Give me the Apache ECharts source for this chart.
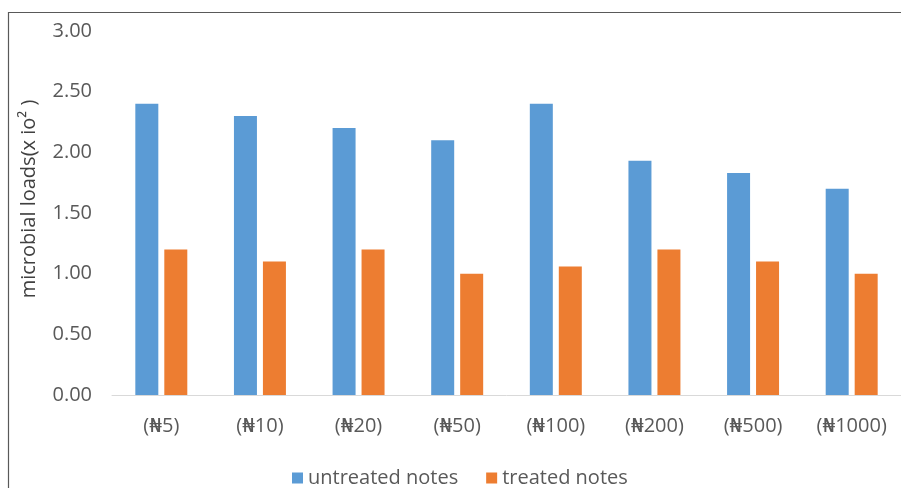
<!DOCTYPE html>
<html>
<head>
<meta charset="utf-8">
<script src="https://cdn.jsdelivr.net/npm/echarts@6/dist/echarts.min.js"></script>
<style>
  html, body { margin: 0; padding: 0; background: #fff; }
  #chart { width: 901px; height: 488px; }
</style>
</head>
<body>
<div id="chart"></div>
<script>
// Banknote denominations
const categories = ['(₦5)', '(₦10)', '(₦20)', '(₦50)', '(₦100)', '(₦200)', '(₦500)', '(₦1000)'];
// Microbial loads (x 10²)
const untreated = [2.40, 2.30, 2.20, 2.10, 2.40, 1.93, 1.83, 1.70];
const treated = [1.20, 1.10, 1.20, 1.00, 1.06, 1.20, 1.10, 1.00];
const seriesNames = ['untreated notes', 'treated notes'];
const yTicks = { min: 0, max: 3, interval: 0.5 };

const FONT = '"Open Sans", "DejaVu Sans", sans-serif';
const chart = echarts.init(document.getElementById('chart'), null, { renderer: 'canvas' });

chart.setOption({
  animation: false,
  backgroundColor: '#ffffff',
  graphic: [{
    type: 'rect',
    shape: { x: 8.5, y: 12.5, width: 1200, height: 1000 },
    style: { fill: 'none', stroke: '#595959', lineWidth: 1.2 },
    silent: true
  }],
  grid: { left: 112, right: -1, top: 31, bottom: 93, containLabel: false },
  legend: {
    data: seriesNames,
    bottom: -5,
    left: 287,
    itemWidth: 11,
    itemHeight: 11,
    itemGap: 28,
    icon: 'rect',
    textStyle: { color: '#595959', fontSize: 20, fontFamily: FONT }
  },
  xAxis: {
    type: 'category',
    data: categories,
    axisLine: { lineStyle: { color: '#d9d9d9', width: 1 } },
    axisTick: { show: false },
    axisLabel: { color: '#595959', fontSize: 20, fontFamily: FONT, margin: 21 }
  },
  yAxis: {
    type: 'value',
    min: yTicks.min,
    max: yTicks.max,
    interval: yTicks.interval,
    name: 'microbial loads(x io² )',
    nameLocation: 'middle',
    nameGap: 73,
    nameTextStyle: { color: '#404040', fontSize: 20, fontFamily: FONT, padding: [0, 0, 0, 28] },
    axisLine: { show: false },
    axisTick: { show: false },
    splitLine: { show: false },
    axisLabel: {
      color: '#595959', fontSize: 20, fontFamily: FONT, margin: 20,
      formatter: v => v.toFixed(2)
    }
  },
  series: [
    {
      name: seriesNames[0], type: 'bar', data: untreated,
      barWidth: 23, barGap: '26%',
      itemStyle: { color: '#5B9BD5' }
    },
    {
      name: seriesNames[1], type: 'bar', data: treated,
      barWidth: 23, barGap: '26%',
      itemStyle: { color: '#ED7D31' }
    }
  ]
});
</script>
</body>
</html>
